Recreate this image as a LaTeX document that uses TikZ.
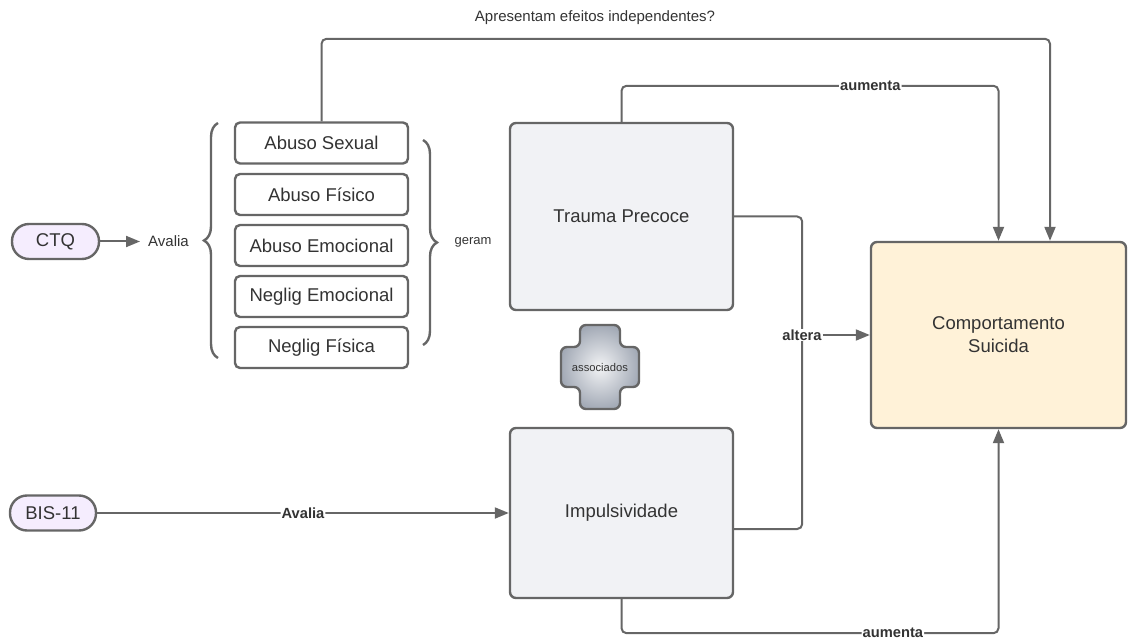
\documentclass[tikz,border=0pt]{standalone}
\usepackage{fontspec}
\setmainfont{Liberation Sans}
\usetikzlibrary{arrows.meta,decorations.pathreplacing,calc}
\definecolor{ln}{HTML}{666666}
\definecolor{txt}{HTML}{333333}
\definecolor{pillc}{HTML}{F5EDFE}
\definecolor{boxc}{HTML}{F1F2F5}
\definecolor{csc}{HTML}{FFF2D8}
\definecolor{crossc}{HTML}{A3AAB6}
\definecolor{crossin}{HTML}{F2F3F5}
\begin{document}
\begin{tikzpicture}[x=1pt,y=-1pt,
  every node/.style={text=txt},
  pill/.style={draw=ln, line width=2.4pt, fill=pillc, rounded corners=17pt, minimum width=87pt, minimum height=35pt, inner sep=0pt, font=\fontsize{18.5}{21}\selectfont},
  item/.style={draw=ln, line width=2.4pt, fill=white, rounded corners=5pt, minimum width=173pt, minimum height=41pt, inner sep=0pt, font=\fontsize{18.5}{21}\selectfont},
  bigbox/.style={draw=ln, line width=2.4pt, fill=boxc, rounded corners=6pt, minimum width=223pt, inner sep=0pt, font=\fontsize{18.5}{21}\selectfont},
  conn/.style={draw=ln, line width=2pt, rounded corners=5pt},
  arr/.style={-{Triangle[length=14pt,width=11pt]}},
  lbl/.style={fill=white, inner sep=1pt, font=\bfseries\fontsize{14.7}{16}\selectfont},
  small/.style={inner sep=1pt, font=\fontsize{15}{17}\selectfont},
  brc/.style={draw=ln, line width=2.4pt, decorate, decoration={brace, amplitude=14pt}}
]
\useasboundingbox (0,0) rectangle (1128,639);

% pills
\node[pill] (ctq) at (55.5,241.5) {CTQ};
\node[pill, minimum width=86pt] (bis) at (53,513) {BIS-11};

% items
\node[item] (as) at (321.5,143) {Abuso Sexual};
\node[item] (af) at (321.5,194.5) {Abuso Físico};
\node[item] (ae) at (321.5,245.5) {Abuso Emocional};
\node[item] (ne) at (321.5,296.5) {Neglig Emocional};
\node[item] (nf) at (321.5,347.5) {Neglig Física};

% braces
\draw[brc] (218,358) -- (218,123);
\draw[brc] (423,140) -- (423,345);

% texts
\node[small] (av1) at (168.5,241.5) {Avalia};
\node[small, font=\fontsize{13}{15}\selectfont] (geram) at (473,242) {geram};
\node[small] (q) at (595,18) {Apresentam efeitos independentes?};

% big boxes
\node[bigbox, minimum height=187pt] (tp) at (621.5,216.5) {Trauma Precoce};
\node[bigbox, minimum height=170pt] (ip) at (621.5,513) {Impulsividade};
\node[draw=ln, line width=2.4pt, fill=csc, rounded corners=6pt, minimum width=255pt, minimum height=186pt, inner sep=0pt, align=center, font=\fontsize{18.5}{23}\selectfont] (cs) at (998.5,335) {Comportamento\\Suicida};

% cross
\path[draw=ln, line width=2.4pt, rounded corners=6pt, inner color=crossin, outer color=crossc, shading=radial]
  (580,325) -- (620,325) -- (620,347) -- (639,347) -- (639,387) -- (620,387) -- (620,409) -- (580,409) -- (580,387) -- (561,387) -- (561,347) -- (580,347) -- cycle;
\node[font=\fontsize{11.2}{13}\selectfont, inner sep=0pt] (assoc) at (600,367) {associados};

% connectors
\draw[conn,arr] (ctq.east) -- ([xshift=-7pt]av1.west);
\draw[conn,arr] (as.north) |- ($(cs.north)+(51.5,-202)$) -- ($(cs.north)+(51.5,0)$);
\draw[conn,arr] (tp.north) -- ++(0,-36) -| node[lbl,pos=0.33]{aumenta} (cs.north);
\draw[conn,arr] (ip.south) -- ++(0,34) -| node[lbl,pos=0.36]{aumenta} (cs.south);
\draw[conn] (tp.east) -- ++(68,0) |- ($(ip.east)+(0,16)$);
\node[lbl] (alt) at (802,335) {altera};
\draw[conn,arr] (alt.east) -- (cs.west);
\draw[conn,arr] (bis.east) -- node[lbl]{Avalia} (ip.west);
\end{tikzpicture}
\end{document}
